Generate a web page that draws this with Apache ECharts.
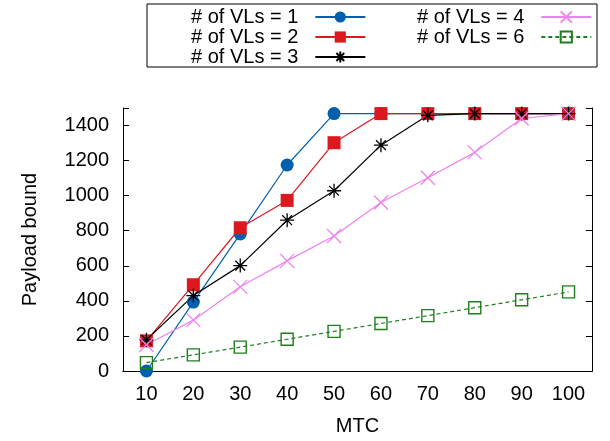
<!DOCTYPE html>
<html>
<head>
<meta charset="utf-8">
<script src="https://cdn.jsdelivr.net/npm/echarts@6/dist/echarts.min.js"></script>
<style>
  html, body { margin: 0; padding: 0; background: #fff; }
  #chart { width: 610px; height: 441px; }
</style>
</head>
<body>
<div id="chart"></div>
<script>
const mtc = ['10', '20', '30', '40', '50', '60', '70', '80', '90', '100']
const vl1 = [0, 393, 782, 1175, 1468, 1468, 1468, 1468, 1468, 1468]
const vl2 = [172, 492, 817, 973, 1302, 1468, 1468, 1468, 1468, 1468]
const vl3 = [178, 430, 601, 860, 1028, 1288, 1458, 1468, 1468, 1468]
const vl4 = [150, 290, 480, 628, 770, 961, 1102, 1247, 1440, 1468]
const vl6 = [48, 92, 136, 181, 226, 271, 316, 361, 406, 451]
const yTicks = [0, 200, 400, 600, 800, 1000, 1200, 1400]

const font = 'Liberation Sans, Arial, sans-serif'
const starPath = 'path://M0,5L10,5M5,0L5,10M1.5,1.5L8.5,8.5M8.5,1.5L1.5,8.5'
const crossPath = 'path://M0,0L10,10M10,0L0,10'

const chart = echarts.init(document.getElementById('chart'))

const legendBase = {
  orient: 'vertical',
  align: 'right',
  itemWidth: 50,
  itemHeight: 14,
  itemGap: 0,
  selectedMode: false,
  textStyle: { fontFamily: font, fontSize: 20, lineHeight: 19.5, color: '#000', padding: [0, 12, 0, 0] }
}

chart.setOption({
  animation: false,
  graphic: [{
    type: 'rect',
    shape: { x: 147, y: 4, width: 450, height: 63 },
    style: { fill: 'none', stroke: '#000', lineWidth: 1 }
  }],
  legend: [
    Object.assign({}, legendBase, { left: 186, top: 2, data: ['# of VLs = 1', '# of VLs = 2', '# of VLs = 3'] }),
    Object.assign({}, legendBase, { left: 412, top: 2, data: ['# of VLs = 4', '# of VLs = 6'] })
  ],
  grid: { left: 123, right: 18, top: 108, bottom: 66 },
  xAxis: [{
    type: 'category',
    data: mtc,
    boundaryGap: true,
    name: 'MTC',
    nameLocation: 'middle',
    nameGap: 45,
    nameTextStyle: { fontFamily: font, fontSize: 20, color: '#000' },
    axisLine: { lineStyle: { color: '#000', width: 1 } },
    axisTick: { alignWithLabel: true, inside: true, length: 6, lineStyle: { color: '#000' } },
    axisLabel: { fontFamily: font, fontSize: 20, color: '#000', margin: 13 }
  }, {
    type: 'category',
    data: mtc,
    position: 'top',
    boundaryGap: true,
    axisLine: { lineStyle: { color: '#000', width: 1 } },
    axisTick: { alignWithLabel: true, inside: true, length: 6, lineStyle: { color: '#000' } },
    axisLabel: { show: false }
  }],
  yAxis: [{
    type: 'value',
    min: 0,
    max: 1500,
    interval: 200,
    name: 'Payload bound',
    nameLocation: 'middle',
    nameGap: 83,
    nameTextStyle: { fontFamily: font, fontSize: 20, color: '#000' },
    axisLine: { show: true, lineStyle: { color: '#000', width: 1 } },
    axisTick: { show: true, inside: true, length: 6, lineStyle: { color: '#000' } },
    splitLine: { show: false },
    axisLabel: {
      fontFamily: font, fontSize: 20, color: '#000', margin: 14,
      formatter: v => (yTicks.indexOf(v) >= 0 ? String(v) : '')
    }
  }, {
    type: 'value',
    min: 0,
    max: 1500,
    interval: 200,
    position: 'right',
    axisLine: { show: true, lineStyle: { color: '#000', width: 1 } },
    axisTick: { show: true, inside: true, length: 6, lineStyle: { color: '#000' } },
    splitLine: { show: false },
    axisLabel: { show: false }
  }],
  series: [{
    name: '# of VLs = 1',
    type: 'line',
    data: vl1,
    symbol: 'circle',
    symbolSize: 13,
    color: '#0060ad',
    lineStyle: { width: 1.2, color: '#0060ad' }
  }, {
    name: '# of VLs = 2',
    type: 'line',
    data: vl2,
    symbol: 'rect',
    symbolSize: 13,
    color: '#dd181f',
    lineStyle: { width: 1.2, color: '#dd181f' }
  }, {
    name: '# of VLs = 3',
    type: 'line',
    data: vl3,
    symbol: starPath,
    symbolSize: 14,
    color: '#000',
    itemStyle: { color: '#000', borderColor: '#000', borderWidth: 1.3 },
    lineStyle: { width: 1.2, color: '#000' }
  }, {
    name: '# of VLs = 4',
    type: 'line',
    data: vl4,
    symbol: crossPath,
    symbolSize: 14,
    color: '#ee82ee',
    itemStyle: { color: '#ee82ee', borderColor: '#ee82ee', borderWidth: 1.3 },
    lineStyle: { width: 1.2, color: '#ee82ee' }
  }, {
    name: '# of VLs = 6',
    type: 'line',
    data: vl6,
    symbol: 'rect',
    symbolSize: 12,
    color: '#1f7f1f',
    itemStyle: { color: 'rgba(0,0,0,0)', borderColor: '#1f7f1f', borderWidth: 1.4 },
    lineStyle: { width: 1.2, color: '#1f7f1f', type: [4, 3] }
  }]
})
</script>
</body>
</html>
